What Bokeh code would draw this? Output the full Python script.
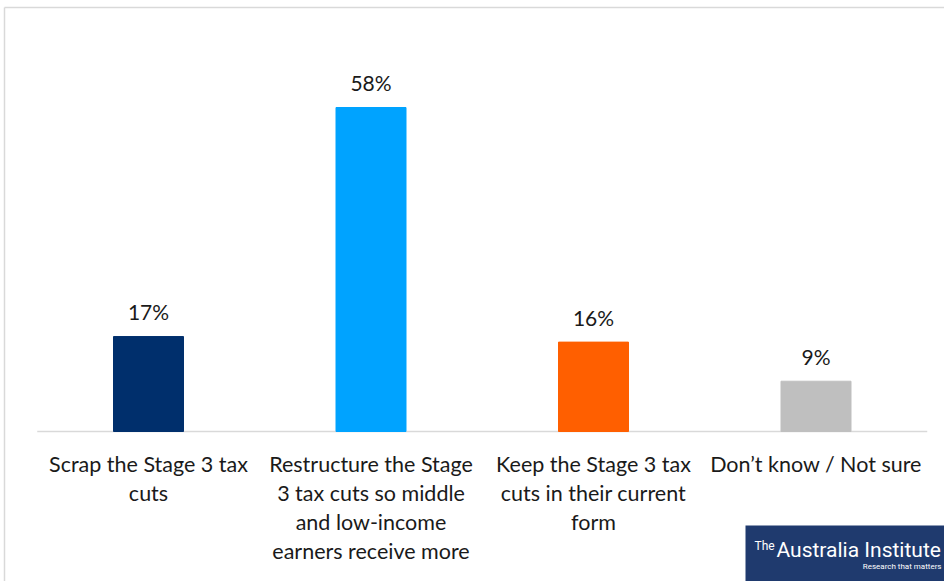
from bokeh.plotting import figure
from bokeh.models import Range1d, ColumnDataSource
from bokeh.core.properties import value
from bokeh.embed import file_html
from bokeh.resources import INLINE

# Survey responses: preferred approach to the Stage 3 tax cuts
categories = [
    "Scrap the Stage 3 tax\ncuts",
    "Restructure the Stage\n3 tax cuts so middle\nand low-income\nearners receive more",
    "Keep the Stage 3 tax\ncuts in their current\nform",
    "Don\u2019t know / Not sure",
]
shares = [17, 58, 16, 9]
share_labels = ["17%", "58%", "16%", "9%"]
bar_colors = ["#002f6c", "#00a3ff", "#ff5f00", "#bfbfbf"]

W, H = 944, 581
# layout: category spacing, first category centre and baseline (pixels)
X0, DX = 148.0, 222.5
BASE = 431.0
SY = 324.0 / 58.0  # pixels per percentage point

def px_x(px):
    return (px - X0) / DX

def px_y(py):
    return (BASE - py) / SY

p = figure(width=W, height=H, output_backend="svg", toolbar_location=None,
           x_range=Range1d(px_x(0), px_x(W)), y_range=Range1d(px_y(H), px_y(0)),
           min_border=0, min_border_left=0, min_border_right=0,
           min_border_top=0, min_border_bottom=0)
p.axis.visible = False
p.grid.visible = False
p.outline_line_color = None
p.background_fill_color = "white"
p.border_fill_color = "white"

idx = list(range(len(categories)))
src = ColumnDataSource(dict(x=idx, top=shares, color=bar_colors,
                            lab=share_labels, cat=categories))

# chart area border (left and top edges)
p.segment(x0=[px_x(4), px_x(4)], y0=[px_y(7), px_y(7)],
          x1=[px_x(4), px_x(W + 5)], y1=[px_y(H + 5), px_y(7)],
          line_color="#d9d9d9", line_width=1.5)

# baseline
p.segment(x0=[-0.5], y0=[0], x1=[len(categories) - 0.5], y1=[0],
          line_color="#d9d9d9", line_width=1.5)

p.vbar(x="x", top="top", bottom=0, width=70 / DX, color="color", source=src)

p.text(x="x", y="top", text="lab", source=src, text_align="center",
       text_baseline="middle", y_offset=-25, text_font=value("Lato"),
       text_font_size="21px", text_color="#1a1a1a")

p.text(x="x", y=0, text="cat", source=src, text_align="center",
       text_baseline="top", y_offset=19, text_font=value("Lato"),
       text_font_size="21.5px", text_color="#1a1a1a", text_line_height=1.12)

# publisher badge
p.quad(left=[px_x(745)], right=[px_x(W + 5)], top=[px_y(525)], bottom=[px_y(H + 5)],
       fill_color="#1f3a6e", line_color=None)
p.text(x=[px_x(754)], y=[px_y(545)], text=["The"], text_font=value("Roboto"),
       text_font_size="12px", text_color="white", text_baseline="middle")
p.text(x=[px_x(776)], y=[px_y(549)], text=["Australia Institute"],
       text_font=value("Roboto"), text_font_size="21px",
       text_color="white", text_baseline="middle")
p.text(x=[px_x(941)], y=[px_y(566)], text=["Research that matters"],
       text_font=value("Roboto"), text_font_size="8px", text_align="right",
       text_color="white", text_baseline="middle")

open("out.html", "w").write(file_html(p, INLINE))
